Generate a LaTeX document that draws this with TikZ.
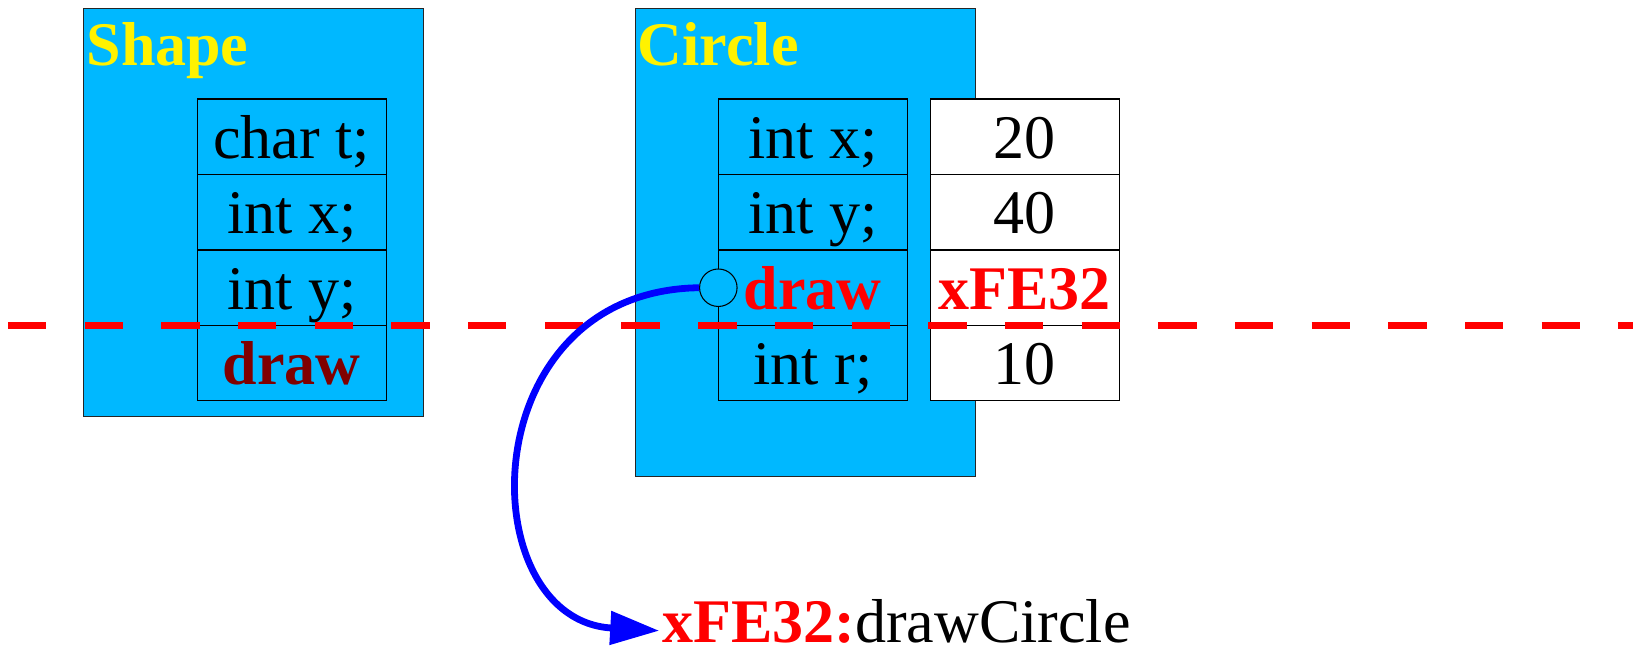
\documentclass[tikz,border=0pt]{standalone}
\usepackage{fontspec}
\setmainfont{Liberation Serif}
\usepackage{xcolor}
\usepackage{tikz}
\usetikzlibrary{positioning}
\usetikzlibrary{arrows.meta}
\definecolor{sky}{RGB}{0,184,255}
\definecolor{maroon}{RGB}{128,0,0}

\begin{document}
\begin{tikzpicture}[x=0.02cm,y=-0.02cm,
	line width=0.6pt,
	font=\fontsize{35.3}{40}\selectfont,
	classbox/.style={draw=black!85,fill=sky,inner sep=0pt,outer sep=0pt,anchor=north west},
	classname/.style={anchor=base west,inner sep=0pt,text=yellow,font=\fontsize{35.3}{40}\selectfont\bfseries},
	membercell/.style={draw,fill=sky,minimum width=3.78cm,minimum height=1.51cm,
		text height=1cm,text depth=0.136cm,inner sep=0pt,outer sep=0pt},
	valcell/.style={membercell,fill=white},
	cutline/.style={red,line width=0.146cm,dash pattern=on 0.767cm off 0.767cm},
	vptr/.style={blue,line width=0.136cm,-{Triangle[length=0.98cm,width=0.65cm]}}]
	\useasboundingbox (0,0) rectangle (1640,647);

	% base class
	\node[classbox,minimum width=6.81cm,minimum height=8.17cm] (shape) at (83.3,8.3) {};
	\node[classname] (shapename) at (86,65) {Shape};
	\node[membercell] (st) at (291.7,136.75) {char t;};
	\node[membercell,below=0pt of st] (sx) {int x;};
	\node[membercell,below=0pt of sx] (sy) {int y;};
	\node[membercell,below=0pt of sy,text=maroon,font=\fontsize{35.3}{40}\selectfont\bfseries] (sd) {draw};

	% derived class
	\node[classbox,minimum width=6.81cm,minimum height=9.37cm] (circ) at (635.3,8.3) {};
	\node[classname] (circname) at (637.3,65) {Circle};
	\node[membercell] (cx) at (812.8,136.75) {int x;};
	\node[membercell,below=0pt of cx] (cy) {int y;};
	\node[membercell,below=0pt of cy,text=red,font=\fontsize{35.3}{40}\selectfont\bfseries] (cd) {draw};
	\node[membercell,below=0pt of cd] (cr) {int r;};

	% values
	\node[valcell,right=0.46cm of cx] (vx) {20};
	\node[valcell,below=0pt of vx] (vy) {40};
	\node[valcell,below=0pt of vy,text=red,font=\fontsize{35.3}{40}\selectfont\bfseries] (vd) {xFE32};
	\node[valcell,below=0pt of vd] (vr) {10};

	\coordinate (cutl) at (8,325.7);
	\coordinate (cutr) at (1633.3,325.7);
	\draw[cutline] (cutl) -- (cutr);

	\node[circle,draw,fill=sky,minimum size=0.75cm,inner sep=0pt] (ptr) at (cd.west) {};
	\node[anchor=base west,inner sep=0pt] (call) at (661.7,642.7)
		{\textcolor{red}{\bfseries xFE32:}drawCircle};

	\draw[vptr] (ptr.west) .. controls (470,291) and (470,620) .. ([xshift=-0.05cm,yshift=0.24cm]call.base west);
\end{tikzpicture}
\end{document}
